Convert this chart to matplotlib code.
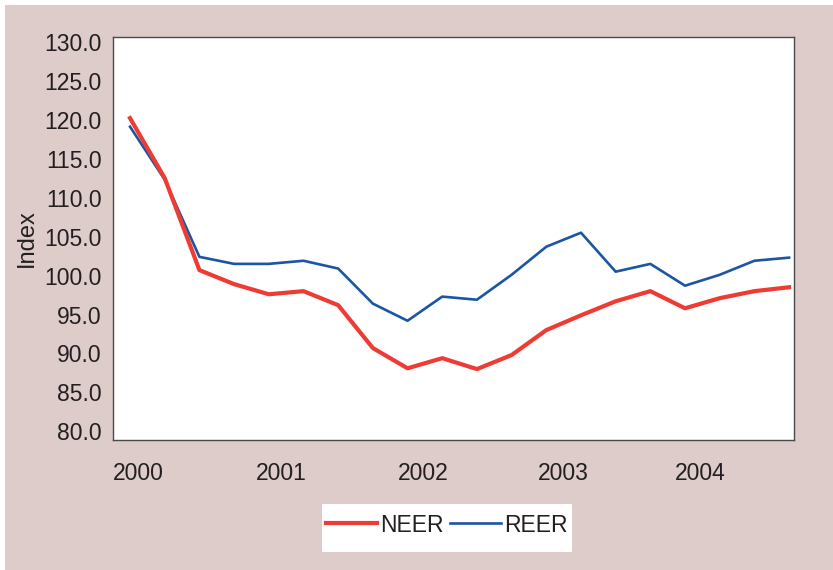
import matplotlib
matplotlib.use("Agg")
import matplotlib.pyplot as plt
from matplotlib.patches import Rectangle

# ---- data (quarterly, 2000Q1 - 2004Q4) ----
quarters = list(range(20))
neer = [120.2, 112.5, 100.7, 98.9, 97.6, 98.0, 96.2, 90.7, 88.1, 89.4,
        88.0, 89.8, 93.0, 94.9, 96.7, 98.0, 95.8, 97.1, 98.0, 98.5]
reer = [119.1, 112.3, 102.4, 101.5, 101.5, 101.9, 100.9, 96.4, 94.2, 97.3,
        96.9, 100.1, 103.7, 105.5, 100.5, 101.5, 98.7, 100.1, 101.9, 102.3]
year_labels = ["2000", "2001", "2002", "2003", "2004"]
year_tick_pos = [0.25, 4.35, 8.45, 12.5, 16.45]
y_ticks = [80, 85, 90, 95, 100, 105, 110, 115, 120, 125, 130]

BG = "#ddccc9"
RED = "#ee3b34"
BLUE = "#1b55a3"
FONT = ["Liberation Sans Narrow", "Liberation Sans", "DejaVu Sans"]
W, H = 833, 570

fig = plt.figure(figsize=(W / 100, H / 100), dpi=100, facecolor="white")
fig.patches.append(Rectangle((5 / W, 0), 1 - 5 / W, 1 - 5 / H,
                             transform=fig.transFigure, facecolor=BG,
                             edgecolor="none", zorder=-10))

ax = fig.add_axes([112.7 / W, (H - 440) / H, (794.3 - 112.7) / W, (440 - 36.7) / H])
ax.set_facecolor("white")
ax.plot(quarters, neer, color=RED, lw=3.0, label="NEER", zorder=3)
ax.plot(quarters, reer, color=BLUE, lw=1.9, label="REER", zorder=2)

ax.set_xlim(-0.5, 19.15)
ax.set_ylim(78.9, 130.65)
ax.set_yticks(y_ticks)
ax.set_yticklabels([f"{v:.1f}" for v in y_ticks], fontfamily=FONT, fontsize=16.5, color="#231f20")
ax.set_xticks(year_tick_pos)
ax.set_xticklabels(year_labels, fontfamily=FONT, fontsize=16.5, color="#231f20")
ax.tick_params(axis="y", length=0, pad=8)
ax.tick_params(axis="x", length=0, pad=16)
for s in ax.spines.values():
    s.set_color("#4a4a4a")
    s.set_linewidth(1.0)

fig.text(27 / W, 1 - 238 / H, "Index", rotation=90, ha="center", va="center",
         fontsize=17, family=["Liberation Sans", "DejaVu Sans"], color="#231f20")

# legend box
fig.patches.append(Rectangle((322 / W, (H - 552) / H), 250 / W, 48 / H,
                             transform=fig.transFigure, facecolor="white",
                             edgecolor="none", zorder=1))
leg = fig.legend(loc="center", bbox_to_anchor=(447 / W, (H - 525) / H), ncol=2,
                 frameon=False, prop={"family": FONT, "size": 16.5},
                 handlelength=2.2, handletextpad=0.15, columnspacing=0.3,
                 borderpad=0.0, borderaxespad=0.0)
for t in leg.get_texts():
    t.set_color("#231f20")

fig.savefig("out.png", dpi=100, facecolor="white")
